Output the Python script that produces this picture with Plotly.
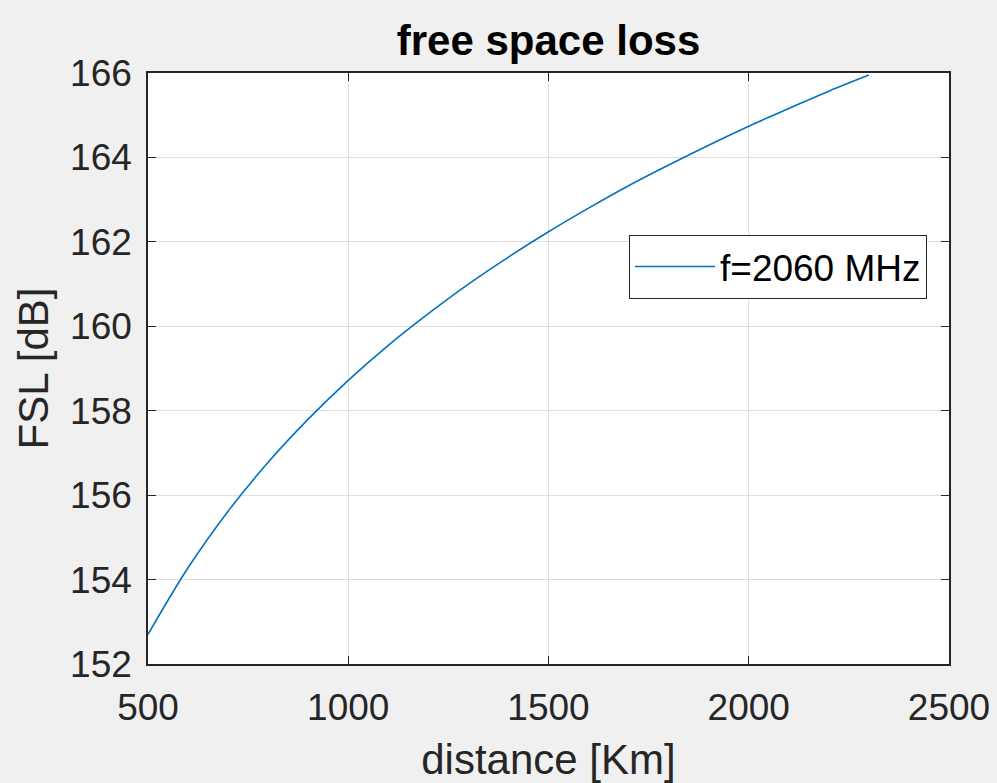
import plotly.graph_objects as go

distance_km = [500, 600, 700, 800, 900, 1000, 1100, 1200, 1300, 1400, 1500,
               1600, 1700, 1800, 1900, 2000, 2100, 2200, 2300]
fsl_db = [152.70, 154.28, 155.62, 156.78, 157.80, 158.72, 159.55, 160.30,
          161.00, 161.64, 162.24, 162.80, 163.33, 163.82, 164.29, 164.74,
          165.16, 165.57, 165.95]
x_ticks = [500, 1000, 1500, 2000, 2500]
y_ticks = [152, 154, 156, 158, 160, 162, 164, 166]

W, H = 997, 783
L, R, T, B = 148, 48, 73, 119

fig = go.Figure()
fig.add_trace(go.Scatter(x=distance_km, y=fsl_db, mode="lines",
                         line=dict(color="#0072BD", width=1.6, shape="spline"),
                         name="f=2060 MHz"))

font = "Liberation Sans, Arial, Helvetica, sans-serif"
axis_common = dict(showline=True, linecolor="#262626", linewidth=1.5,
                   mirror="ticks", ticks="inside", ticklen=8, tickwidth=1,
                   tickcolor="#262626", showgrid=True, gridcolor="#dfdfdf",
                   gridwidth=1, zeroline=False, automargin=False,
                   tickfont=dict(family=font, size=37, color="#262626"))

fig.update_xaxes(range=[500, 2500], tickvals=x_ticks,
                 title=dict(text="distance [Km]", standoff=20,
                            font=dict(family=font, size=42, color="#262626")),
                 ticklabelstandoff=10,
                 **axis_common)
fig.update_yaxes(range=[152, 166], tickvals=y_ticks,
                 title=dict(text="FSL [dB]", standoff=8,
                            font=dict(family=font, size=42, color="#262626")),
                 ticklabelstandoff=7,
                 **axis_common)

fig.update_layout(
    width=W, height=H,
    margin=dict(l=L, r=R, t=T, b=B, pad=0),
    paper_bgcolor="#f0f0f0", plot_bgcolor="white",
    title=dict(text="<b>free space loss</b>", x=(L + (W - L - R) / 2) / W,
               xanchor="center", y=1 - 40 / H, yanchor="middle",
               font=dict(family=font, size=42, color="black")),
    showlegend=True,
    legend=dict(x=(629 - L) / (W - L - R), y=(H - B - 235) / (H - T - B),
                xanchor="left", yanchor="top", bgcolor="white",
                bordercolor="#262626", borderwidth=1,
                font=dict(family=font, size=37, color="black"),
                itemwidth=80),
)

fig.write_html("out.html")
